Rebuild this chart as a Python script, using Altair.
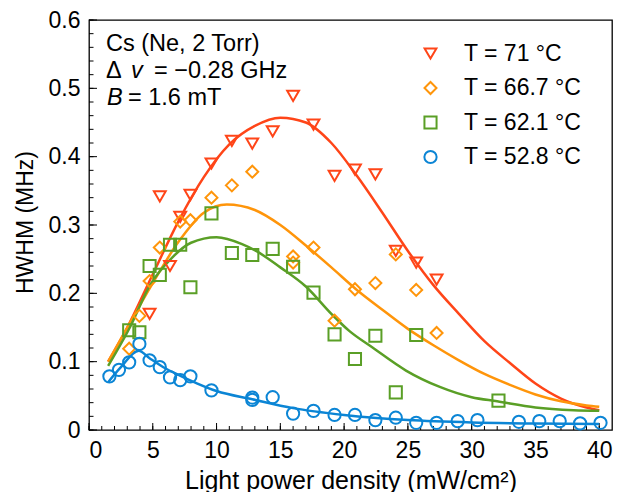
import altair as alt
import pandas as pd

# ---------------- data ----------------
series_names = ["T = 71 °C", "T = 66.7 °C", "T = 62.1 °C", "T = 52.8 °C"]
colors = ["#ff4518", "#ff950a", "#5a9f26", "#0b85d5"]
shapes = ["triangle-down", "diamond", "square", "circle"]
sizes = [140, 150, 135, 165]

red_x = [4.75, 6.35, 7.15, 5.55, 7.95, 9.6, 11.2, 12.8, 14.4, 16.0, 17.6, 19.25, 20.85, 22.45, 24.05, 25.65, 27.25]
red_y = [0.170, 0.240, 0.312, 0.342, 0.344, 0.390, 0.423, 0.419, 0.437, 0.489, 0.447, 0.372, 0.381, 0.374, 0.262, 0.245, 0.220]

orange_x = [3.15, 3.95, 4.75, 5.55, 7.15, 7.95, 9.6, 11.2, 12.8, 16.0, 16.0, 17.6, 19.25, 20.85, 22.45, 24.05, 25.65, 27.25]
orange_y = [0.119, 0.167, 0.218, 0.267, 0.305, 0.307, 0.340, 0.358, 0.378, 0.254, 0.245, 0.267, 0.160, 0.206, 0.215, 0.257, 0.205, 0.142]

green_x = [3.15, 3.95, 4.75, 5.55, 6.35, 7.15, 7.95, 9.6, 11.2, 12.8, 14.4, 16.0, 17.6, 19.25, 20.85, 22.45, 24.05, 25.65, 32.1]
green_y = [0.146, 0.143, 0.240, 0.227, 0.271, 0.271, 0.209, 0.317, 0.259, 0.256, 0.265, 0.239, 0.201, 0.140, 0.104, 0.138, 0.055, 0.139, 0.043]

blue_x = [1.6, 2.35, 3.15, 3.95, 4.75, 5.55, 6.35, 7.15, 7.95, 9.6, 12.8, 12.8, 14.4, 16.0, 17.6, 19.25, 20.85, 22.45, 24.05, 25.65, 27.25, 28.9, 30.45, 33.7, 35.3, 36.9, 38.5, 40.1]
blue_y = [0.0785, 0.088, 0.099, 0.126, 0.102, 0.092, 0.077, 0.073, 0.0785, 0.058, 0.0475, 0.044, 0.048, 0.024, 0.028, 0.022, 0.022, 0.0145, 0.018, 0.0106, 0.0106, 0.013, 0.0145, 0.012, 0.013, 0.013, 0.0097, 0.0106]

# fitted curves
red_fit_x = [1.5, 3, 5, 7, 9, 11, 13, 15, 17, 19, 21, 23, 25, 27, 29, 31, 33, 35, 37, 39, 40]
red_fit_y = [0.100, 0.150, 0.228, 0.305, 0.370, 0.418, 0.445, 0.457, 0.450, 0.420, 0.372, 0.318, 0.262, 0.212, 0.170, 0.130, 0.098, 0.068, 0.046, 0.033, 0.029]

orange_fit_x = [1.5, 3, 5, 7, 9, 10.8, 13, 15, 17, 19, 21, 23, 25, 27, 29, 31, 33, 35, 37, 39, 40]
orange_fit_y = [0.100, 0.150, 0.215, 0.275, 0.318, 0.330, 0.322, 0.300, 0.270, 0.238, 0.205, 0.176, 0.148, 0.124, 0.102, 0.082, 0.066, 0.052, 0.042, 0.036, 0.034]

green_fit_x = [1.5, 3.2, 4.75, 6.5, 8, 10, 12, 13.1, 15, 17, 19, 20.4, 22.2, 24.85, 27.5, 30, 32, 35, 38, 40]
green_fit_y = [0.094, 0.150, 0.211, 0.252, 0.274, 0.282, 0.272, 0.262, 0.238, 0.210, 0.170, 0.145, 0.121, 0.087, 0.063, 0.048, 0.042, 0.033, 0.029, 0.028]

blue_fit_x = [1.5, 2.5, 3.9, 4.75, 6, 7.1, 8.5, 10, 12.8, 16, 20, 25, 30, 35, 40]
blue_fit_y = [0.070, 0.092, 0.116, 0.105, 0.090, 0.080, 0.068, 0.057, 0.045, 0.032, 0.022, 0.0145, 0.011, 0.0095, 0.0087]

x_ticks = [0, 5, 10, 15, 20, 25, 30, 35, 40]
y_ticks = [0, 0.1, 0.2, 0.3, 0.4, 0.5, 0.6]
x_minor = list(range(0, 41))
y_minor = [round(i * 0.02, 2) for i in range(31)]

# ---------------- tables ----------------
pts = []
for name, xs, ys in zip(series_names, [red_x, orange_x, green_x, blue_x], [red_y, orange_y, green_y, blue_y]):
    for a, b in zip(xs, ys):
        pts.append({"x": a, "y": b, "series": name})
points = pd.DataFrame(pts)

W, H = 523, 410
FONT = "Liberation Sans"
xs_scale = alt.Scale(domain=[0, 41], nice=False, zero=False)
ys_scale = alt.Scale(domain=[0, 0.6], nice=False)

x_axis = alt.Axis(values=x_ticks, title="Light power density (mW/cm²)", labelPadding=9,
                  titleY=50, titleBaseline="middle", titleFontSize=25)
y_axis = alt.Axis(values=y_ticks, format="~g", title="HWHM (MHz)", labelPadding=9,
                  titleX=-64, titleY=202, titleAngle=-90, titleBaseline="middle", titleAlign="center")

line_layers = []
for c, xs, ys in zip(colors, [red_fit_x, orange_fit_x, green_fit_x, blue_fit_x],
                     [red_fit_y, orange_fit_y, green_fit_y, blue_fit_y]):
    df = pd.DataFrame({"x": xs, "y": ys})
    line_layers.append(
        alt.Chart(df).mark_line(strokeWidth=2.5, interpolate="monotone", color=c).encode(
            x=alt.X("x:Q", scale=xs_scale, axis=x_axis),
            y=alt.Y("y:Q", scale=ys_scale, axis=y_axis),
        )
    )

leg = alt.Legend(orient="none", legendX=330, legendY=22, title=None)
pts_layer = alt.Chart(points).mark_point(filled=False, strokeWidth=2, opacity=1).encode(
    x=alt.X("x:Q", scale=xs_scale, axis=x_axis),
    y=alt.Y("y:Q", scale=ys_scale, axis=y_axis),
    color=alt.Color("series:N", scale=alt.Scale(domain=series_names, range=colors), legend=leg),
    shape=alt.Shape("series:N", scale=alt.Scale(domain=series_names, range=shapes), legend=leg),
    size=alt.Size("series:N", scale=alt.Scale(domain=series_names, range=sizes), legend=None),
)

def tick_rules(vals, channel, length):
    df = pd.DataFrame({"v": vals})
    if channel == "x":
        return alt.Chart(df).mark_rule(color="black", strokeWidth=1).encode(
            x=alt.X("v:Q", scale=xs_scale, axis=x_axis),
            y=alt.value(H), y2=alt.value(H - length))
    return alt.Chart(df).mark_rule(color="black", strokeWidth=1).encode(
        y=alt.Y("v:Q", scale=ys_scale, axis=y_axis),
        x=alt.value(0), x2=alt.value(length))

ticks = [tick_rules(x_minor, "x", 4), tick_rules(x_ticks, "x", 7),
         tick_rules(y_minor, "y", 4.5), tick_rules(y_ticks, "y", 8)]

one = pd.DataFrame({"a": [0]})
def label(txt, x, y, italic=False):
    return alt.Chart(one).mark_text(text=txt, align="left", baseline="alphabetic", fontSize=23.5,
                                    font=FONT, fontStyle="italic" if italic else "normal",
                                    color="black").encode(x=alt.value(x), y=alt.value(y))

texts = [
    label("Cs (Ne, 2 Torr)", 17, 31),
    label("Δ", 17, 58), label("v", 42, 58, True), label("= −0.28 GHz", 65, 58),
    label("B", 18, 85, True), label("= 1.6 mT", 39, 85),
]

chart = alt.layer(*ticks, *line_layers, pts_layer, *texts).properties(
    width=W, height=H,
    autosize=alt.AutoSizeParams(type="none"),
    padding={"left": 81, "top": 12, "right": 4, "bottom": 62},
).configure_view(stroke="black", strokeWidth=1.3).configure_axis(
    domain=False, ticks=False, grid=False, labelFontSize=23, titleFontSize=23,
    labelFont=FONT, titleFont=FONT, labelColor="black", titleColor="black",
    titleFontWeight="normal",
).configure_legend(
    labelFontSize=23, labelFont=FONT, labelColor="black", symbolSize=110,
    symbolStrokeWidth=2, rowPadding=10.5, labelOffset=22, symbolFillColor="transparent",
)

chart.save("out.html", embed_options={"renderer": "svg", "actions": False})
